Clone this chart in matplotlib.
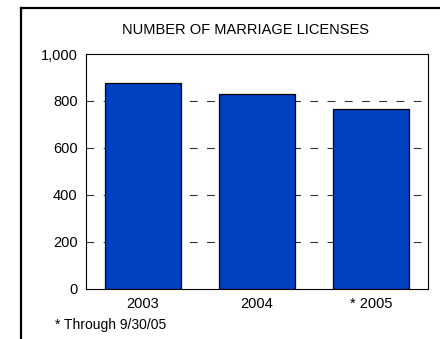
import matplotlib.pyplot as plt
from matplotlib.lines import Line2D

plt.rcParams['font.family'] = ['Liberation Sans', 'DejaVu Sans']

years = ['2003', '2004', '* 2005']
licenses = [875, 828, 765]
yticks = [0, 200, 400, 600, 800, 1000]
ylabels = ['0', '200', '400', '600', '800', '1,000']

W, H = 440, 339
fig = plt.figure(figsize=(W / 100, H / 100), dpi=100)

# outer frame (only left and top show)
fx = 21 / W
fy = (H - 8) / H
fig.add_artist(Line2D([fx, fx], [0, fy], color='black', lw=1.6, transform=fig.transFigure))
fig.add_artist(Line2D([fx, 1], [fy, fy], color='black', lw=1.6, transform=fig.transFigure))

ax = fig.add_axes([86 / W, (H - 288.5) / H, 342 / W, 234.5 / H])
ax.bar(range(len(years)), licenses, width=0.66, color='#0041C2',
       edgecolor='black', linewidth=0.9, zorder=3)

ax.set_xlim(-0.5, 2.5)
ax.set_ylim(0, 1000)
ax.set_yticks(yticks)
ax.set_yticklabels(ylabels)
ax.set_xticks(range(len(years)))
ax.set_xticklabels(years)
ax.tick_params(axis='both', length=0, labelsize=10.5, colors='black')
ax.tick_params(axis='y', pad=6)
ax.tick_params(axis='x', pad=6)

for v in yticks[1:-1]:
    ax.axhline(v, color='#333333', lw=0.8, dashes=(7, 8.5), zorder=1)

for s in ax.spines.values():
    s.set_linewidth(0.8)

fig.text(245 / W, (H - 30) / H, 'NUMBER OF MARRIAGE LICENSES',
         ha='center', va='center', fontsize=10.5)
fig.text(55 / W, (H - 325) / H, '* Through 9/30/05',
         ha='left', va='center', fontsize=10)

fig.savefig('out.png', dpi=100)
